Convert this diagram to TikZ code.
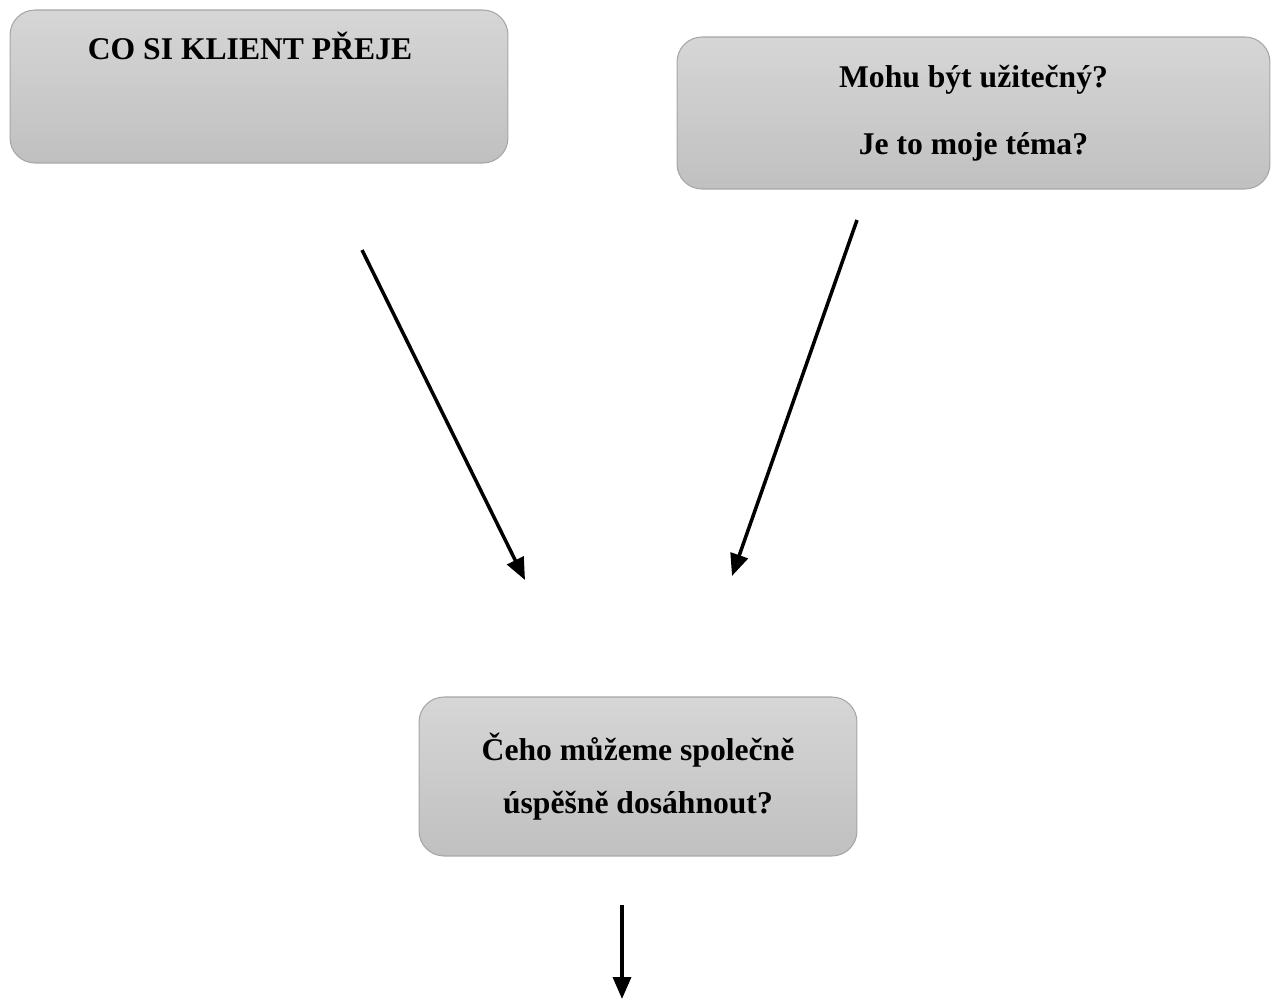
\documentclass[tikz,border=0pt]{standalone}
\usepackage{fontspec}
\setmainfont{Liberation Serif}
\usetikzlibrary{arrows.meta}
\definecolor{boxtop}{HTML}{D6D6D6}
\definecolor{boxbot}{HTML}{C0C0C0}
\definecolor{boxline}{HTML}{A6A6A6}
\begin{document}
\begin{tikzpicture}[x=0.02cm,y=-0.02cm,
		box/.style={draw=boxline,line width=0.6pt,rounded corners=0.5cm,top color=boxtop,bottom color=boxbot,align=center,font=\bfseries\fontsize{18}{38}\selectfont},
		arr/.style={line width=2pt,-{Triangle[length=0.44cm,width=0.36cm]}}]
		\useasboundingbox (0,0) rectangle (1278,1001);
		
		\node[box,minimum width=9.96cm,minimum height=3.06cm,text height=0.5cm,text depth=1.6cm] (wish) at (259,86.5) {CO SI KLIENT PŘEJE\hspace*{0.36cm}};
		\node[box,minimum width=11.86cm,minimum height=3.04cm] (useful) at (973.5,113) {Mohu být užitečný?\\Je to moje téma?};
		\node[box,minimum width=8.76cm,minimum height=3.18cm,font=\bfseries\fontsize{18}{30}\selectfont] (goal) at (638,776.5) {Čeho můžeme společně\\úspěšně dosáhnout?};
		
		\coordinate (s1) at (362,250);
		\coordinate (e1) at (525,580);
		\coordinate (s2) at (857,220);
		\coordinate (e2) at (732,576);
		\coordinate (s3) at (622,905);
		\coordinate (e3) at (622,999);
		
		\draw[arr] (s1) -- (e1);
		\draw[arr] (s2) -- (e2);
		\draw[arr] (s3) -- (e3);
	\end{tikzpicture}
\end{document}
